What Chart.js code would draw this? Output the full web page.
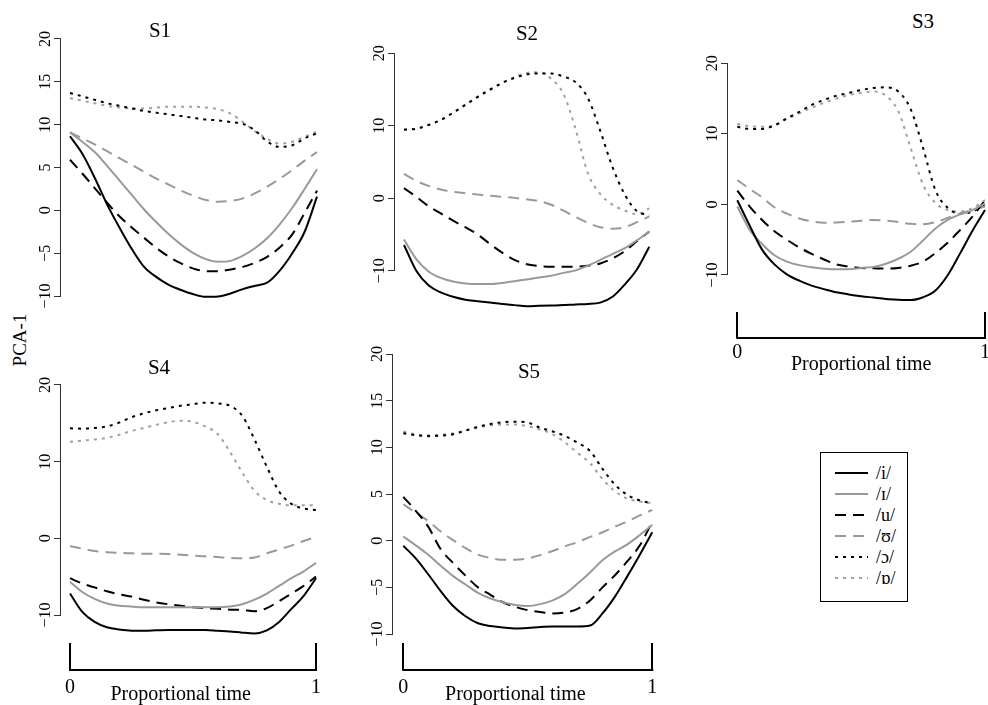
<!DOCTYPE html>
<html>
<head>
<meta charset="utf-8">
<title>PCA-1 trajectories by speaker</title>
<script src="https://cdn.jsdelivr.net/npm/chart.js@4.4.1/dist/chart.umd.min.js"></script>
<style>
    html, body { margin: 0; padding: 0; background: #fff; }
    body { position: relative; width: 988px; height: 705px; overflow: hidden; font-family: 'Liberation Serif', 'Times New Roman', serif; color: #000; }
    canvas { position: absolute; }
    .panel-title { position: absolute; font-size: 21px; line-height: 1; transform: translate(-50%, -50%); white-space: nowrap; }
    .y-label { position: absolute; font-size: 19px; line-height: 1; transform: translate(-50%, -50%) rotate(-90deg); white-space: nowrap; }
    #legend { position: absolute; left: 820px; top: 452px; width: 86px; height: 148px; border: 1px solid #000; }
    .legend-row { position: absolute; left: 0; height: 20px; display: flex; align-items: center; }
    .legend-row svg { margin-left: 14px; display: block; }
    .legend-row span { margin-left: 8px; font-size: 18px; line-height: 1; }
</style>
</head>
<body>
<div class="y-label" style="left: 19px; top: 340px;">PCA-1</div>
<div id="legend"></div>

<script>
// Proportional time (shared x values)
const time = [0, 0.05, 0.1, 0.15, 0.2, 0.25, 0.3, 0.35, 0.4, 0.45, 0.5,
              0.55, 0.6, 0.65, 0.7, 0.75, 0.8, 0.85, 0.9, 0.95, 1];
const vowels = ['/i/', '/ɪ/', '/u/', '/ʊ/', '/ɔ/', '/ɒ/'];
const yTicksFine = [-10, -5, 0, 5, 10, 15, 20];
const yTicksCoarse = [-10, 0, 10, 20];
const xTicks = [0, 1];

// S1
const s1_i  = [8.65, 6.6, 3.8, 0.7, -2.0, -4.5, -6.6, -7.8, -8.7, -9.3, -9.8, -10.1, -10.05, -9.7, -9.2, -8.8, -8.4, -7.0, -5.0, -2.5, 1.6];
const s1_ih = [9.1, 8.0, 6.8, 5.2, 3.5, 1.8, 0.1, -1.4, -2.8, -4.0, -5.0, -5.7, -6.0, -5.9, -5.3, -4.4, -3.2, -1.6, 0.3, 2.5, 4.8];
const s1_u  = [5.9, 4.3, 2.6, 0.9, -0.7, -2.0, -3.2, -4.4, -5.4, -6.2, -6.8, -7.1, -7.1, -6.9, -6.6, -6.1, -5.4, -4.3, -2.8, -0.3, 2.3];
const s1_uh = [9.1, 8.4, 7.7, 6.9, 6.1, 5.3, 4.5, 3.7, 3.0, 2.3, 1.7, 1.2, 1.0, 1.1, 1.4, 2.0, 2.8, 3.7, 4.7, 5.8, 6.8];
const s1_oh = [13.7, 13.3, 12.9, 12.5, 12.2, 11.9, 11.6, 11.4, 11.2, 11.0, 10.8, 10.6, 10.5, 10.3, 10.1, 9.3, 8.0, 7.4, 7.6, 8.4, 9.0];
const s1_aw = [13.1, 12.8, 12.5, 12.2, 12.0, 11.9, 11.9, 12.0, 12.1, 12.1, 12.1, 12.0, 11.8, 11.3, 10.3, 9.2, 8.3, 7.8, 8.0, 8.6, 9.2];

// S2
const s2_i  = [-6.45, -10.0, -12.0, -13.0, -13.6, -14.0, -14.2, -14.4, -14.6, -14.75, -14.9, -14.85, -14.8, -14.75, -14.65, -14.6, -14.4, -13.6, -11.9, -9.8, -6.7];
const s2_ih = [-5.7, -8.4, -10.1, -11.0, -11.5, -11.75, -11.85, -11.85, -11.7, -11.45, -11.2, -10.95, -10.7, -10.3, -9.95, -9.3, -8.5, -7.7, -6.9, -5.8, -4.6];
const s2_u  = [1.4, 0.2, -1.1, -2.1, -3.1, -4.0, -5.0, -6.3, -7.5, -8.5, -9.1, -9.35, -9.45, -9.45, -9.45, -9.3, -9.0, -8.3, -7.3, -5.9, -4.6];
const s2_uh = [3.35, 2.4, 1.7, 1.2, 0.9, 0.7, 0.5, 0.35, 0.2, 0.05, -0.15, -0.4, -0.9, -1.7, -2.6, -3.4, -4.0, -4.2, -4.0, -3.3, -2.5];
const s2_oh = [9.45, 9.6, 10.1, 10.8, 11.8, 12.9, 14.0, 15.0, 15.9, 16.6, 17.1, 17.2, 17.2, 16.8, 16.0, 13.8, 9.3, 4.3, 0.5, -1.8, -2.3];
const s2_aw = [9.5, 9.6, 10.1, 10.8, 11.8, 12.8, 13.9, 14.9, 15.9, 16.7, 17.3, 17.4, 16.5, 14.4, 9.5, 3.4, 0.6, -0.9, -1.7, -2.2, -1.4];

// S3
const s3_i  = [0.6, -3.0, -6.4, -8.5, -9.9, -10.8, -11.5, -12.0, -12.45, -12.75, -13.0, -13.2, -13.4, -13.5, -13.55, -13.15, -12.2, -10.0, -6.9, -3.7, -0.8];
const s3_ih = [-0.3, -3.6, -5.6, -7.2, -8.1, -8.6, -8.9, -9.1, -9.2, -9.2, -9.0, -8.85, -8.4, -7.7, -6.7, -5.1, -3.4, -2.2, -1.4, -0.8, 0.15];
const s3_u  = [1.95, -0.3, -2.2, -3.8, -5.0, -6.1, -7.0, -7.8, -8.5, -8.8, -9.0, -9.05, -9.1, -9.0, -8.7, -8.1, -6.9, -5.4, -3.6, -1.7, 0.6];
const s3_uh = [3.45, 2.2, 1.0, -0.4, -1.3, -2.0, -2.4, -2.6, -2.55, -2.45, -2.3, -2.2, -2.3, -2.5, -2.75, -2.8, -2.5, -1.9, -1.3, -0.8, -0.3];
const s3_oh = [11.0, 10.7, 10.7, 11.2, 12.2, 13.1, 14.1, 14.8, 15.4, 15.8, 16.2, 16.5, 16.6, 16.0, 13.5, 8.0, 2.0, -0.5, -1.3, -1.0, -0.1];
const s3_aw = [11.4, 11.1, 11.0, 11.2, 12.1, 12.9, 13.7, 14.4, 15.0, 15.5, 15.8, 16.0, 15.4, 13.2, 8.0, 2.8, 0.2, -0.8, -1.0, -0.5, 0.6];

// S4
const s4_i  = [-7.2, -9.6, -10.9, -11.6, -11.9, -12.05, -12.05, -12.0, -11.95, -11.95, -11.95, -11.95, -12.05, -12.15, -12.3, -12.4, -12.0, -10.9, -9.2, -7.5, -5.2];
const s4_ih = [-5.65, -7.0, -7.9, -8.5, -8.8, -8.9, -9.0, -9.0, -9.0, -9.0, -9.0, -9.0, -9.0, -8.9, -8.6, -8.0, -7.2, -6.2, -5.2, -4.3, -3.2];
const s4_u  = [-5.2, -5.9, -6.4, -6.9, -7.3, -7.6, -8.0, -8.35, -8.6, -8.8, -9.0, -9.1, -9.2, -9.3, -9.35, -9.5, -9.1, -8.2, -7.2, -6.2, -5.0];
const s4_uh = [-1.0, -1.35, -1.65, -1.8, -1.9, -1.95, -2.0, -2.0, -2.05, -2.15, -2.25, -2.35, -2.45, -2.55, -2.6, -2.5, -1.95, -1.45, -0.95, -0.35, 0.2];
const s4_oh = [14.35, 14.3, 14.4, 14.6, 15.1, 15.8, 16.3, 16.7, 17.0, 17.3, 17.5, 17.7, 17.6, 17.3, 16.0, 12.9, 9.35, 6.1, 4.5, 3.9, 3.7];
const s4_aw = [12.6, 12.75, 12.9, 13.1, 13.5, 14.0, 14.4, 14.8, 15.15, 15.35, 15.2, 14.6, 13.6, 11.3, 8.6, 6.2, 5.0, 4.5, 4.3, 4.3, 4.35];

// S5
const s5_i  = [-0.55, -1.9, -3.6, -5.4, -7.0, -8.1, -8.85, -9.15, -9.3, -9.4, -9.35, -9.25, -9.2, -9.2, -9.2, -9.1, -7.8, -6.0, -3.8, -1.5, 0.9];
const s5_ih = [0.45, -0.5, -1.5, -2.7, -3.8, -4.7, -5.6, -6.2, -6.6, -6.9, -7.0, -6.8, -6.4, -5.7, -4.6, -3.4, -2.1, -1.15, -0.4, 0.6, 1.7];
const s5_u  = [4.7, 3.2, 1.5, -0.9, -2.4, -3.75, -5.0, -5.8, -6.6, -7.1, -7.45, -7.65, -7.8, -7.7, -7.3, -6.4, -5.0, -3.7, -2.2, -0.5, 2.05];
const s5_uh = [3.9, 3.0, 2.1, 1.0, 0.05, -0.8, -1.5, -1.85, -2.05, -2.05, -1.9, -1.55, -1.1, -0.6, -0.15, 0.4, 0.9, 1.5, 2.05, 2.7, 3.3];
const s5_oh = [11.5, 11.3, 11.2, 11.25, 11.4, 11.8, 12.2, 12.5, 12.7, 12.75, 12.65, 12.1, 11.7, 11.2, 10.5, 9.6, 7.7, 6.0, 4.9, 4.3, 4.0];
const s5_aw = [11.7, 11.4, 11.3, 11.35, 11.5, 11.8, 12.1, 12.35, 12.45, 12.45, 12.25, 11.9, 11.4, 10.5, 9.4, 8.3, 6.6, 5.3, 4.5, 4.2, 4.0];

// Line styles, one per vowel
const seriesStyle = [
    { color: '#000000', dash: [] },
    { color: '#999999', dash: [] },
    { color: '#000000', dash: [11, 7] },
    { color: '#999999', dash: [11, 7] },
    { color: '#000000', dash: [3, 5] },
    { color: '#a0a0a0', dash: [3, 5] }
];

const FONT = 'Liberation Serif';
const AXIS_W = 45;
const PAD_TOP = 14, PAD_RIGHT = 8, PAD_BOTTOM = 14;

// Panel layout: canvas box, pixel calibration of the time axis and of two y values
const panels = [
    { name: 'S1', series: [s1_i, s1_ih, s1_u, s1_uh, s1_oh, s1_aw], yTicks: yTicksFine,
      box: { left: 16, top: 16, width: 319, height: 308 }, xPx: [70, 317], yCal: [20, 39, -10, 296],
      titlePos: [160, 30], xAxis: null },
    { name: 'S2', series: [s2_i, s2_ih, s2_u, s2_uh, s2_oh, s2_aw], yTicks: yTicksCoarse,
      box: { left: 350, top: 26, width: 317, height: 303 }, xPx: [404, 649.3], yCal: [20, 53.3, -10, 270.7],
      titlePos: [527, 33], xAxis: null },
    { name: 'S3', series: [s3_i, s3_ih, s3_u, s3_uh, s3_oh, s3_aw], yTicks: yTicksCoarse,
      box: { left: 683, top: 36, width: 320, height: 339 }, xPx: [737.3, 985], yCal: [20, 63.3, -10, 275],
      titlePos: [923, 21], xAxis: { height: 63, tickLen: 26, pad: 3, titleAt: 0.5, titleDrop: 32 } },
    { name: 'S4', series: [s4_i, s4_ih, s4_u, s4_uh, s4_oh, s4_aw], yTicks: yTicksCoarse,
      box: { left: 16, top: 358, width: 318, height: 347 }, xPx: [70, 316], yCal: [20, 385, -10, 615],
      titlePos: [159, 367], xAxis: { height: 62, tickLen: 27, pad: 6, titleAt: 0.45, titleDrop: 30 } },
    { name: 'S5', series: [s5_i, s5_ih, s5_u, s5_uh, s5_oh, s5_aw], yTicks: yTicksFine,
      box: { left: 348, top: 331, width: 322, height: 374 }, xPx: [403.3, 652.3], yCal: [20, 354, -10, 634],
      titlePos: [529, 371], xAxis: { height: 62, tickLen: 27, pad: 6, titleAt: 0.45, titleDrop: 30 } }
];

// R-style axes: y axis line only between the outer ticks, bracket-shaped time axis
const rAxisPlugin = {
    id: 'rAxis',
    afterDraw(chart, args, opts) {
        const ctx = chart.ctx;
        const ys = chart.scales.y;
        const xs = chart.scales.x;
        const vals = ys.ticks.map(t => t.value);
        ctx.save();
        ctx.strokeStyle = '#333';
        ctx.lineWidth = 1;
        const ax = Math.round(ys.right) - 0.5;
        ctx.beginPath();
        ctx.moveTo(ax, ys.getPixelForValue(Math.max(...vals)));
        ctx.lineTo(ax, ys.getPixelForValue(Math.min(...vals)));
        ctx.stroke();

        if (opts.bracket) {
            const yb = xs.top + opts.tickLen;
            ctx.strokeStyle = '#000';
            ctx.lineWidth = 2;
            ctx.lineCap = 'square';
            ctx.beginPath();
            ctx.moveTo(xs.getPixelForValue(xTicks[0]), yb);
            ctx.lineTo(xs.getPixelForValue(xTicks[xTicks.length - 1]), yb);
            ctx.stroke();

            ctx.fillStyle = '#000';
            ctx.font = '20px "' + FONT + '"';
            ctx.textAlign = 'center';
            ctx.textBaseline = 'alphabetic';
            ctx.fillText('Proportional time', xs.getPixelForValue(opts.titleAt), yb + opts.titleDrop);
        }
        ctx.restore();
    }
};

function formatTick(v) {
    return v < 0 ? '\u2212' + Math.abs(v) : String(v);
}

function makePanel(p) {
    const canvas = document.createElement('canvas');
    canvas.width = p.box.width;
    canvas.height = p.box.height;
    canvas.style.left = p.box.left + 'px';
    canvas.style.top = p.box.top + 'px';
    document.body.appendChild(canvas);

    const xh = p.xAxis ? p.xAxis.height : 0;
    const padBottom = p.xAxis ? 0 : PAD_BOTTOM;
    const area = {
        left: p.box.left + AXIS_W,
        right: p.box.left + p.box.width - PAD_RIGHT,
        top: p.box.top + PAD_TOP,
        bottom: p.box.top + p.box.height - padBottom - xh
    };

    // scale ranges that reproduce the reference's pixel mapping
    const xSpan = p.xPx[1] - p.xPx[0];
    const xMin = (area.left - p.xPx[0]) / xSpan;
    const xMax = (area.right - p.xPx[0]) / xSpan;
    const [v1, p1, v2, p2] = p.yCal;
    const unitsPerPx = (v1 - v2) / (p2 - p1);
    const yMax = v1 + (p1 - area.top) * unitsPerPx;
    const yMin = v1 - (area.bottom - p1) * unitsPerPx;

    new Chart(canvas, {
        type: 'line',
        data: {
            datasets: p.series.map((vals, i) => ({
                label: vowels[i],
                data: time.map((t, k) => ({ x: t, y: vals[k] })),
                borderColor: seriesStyle[i].color,
                borderDash: seriesStyle[i].dash,
                borderWidth: 2,
                pointRadius: 0,
                fill: false,
                cubicInterpolationMode: 'monotone'
            }))
        },
        options: {
            responsive: false,
            animation: false,
            devicePixelRatio: 1,
            layout: { padding: { top: PAD_TOP, right: PAD_RIGHT, bottom: padBottom, left: 0 } },
            plugins: {
                legend: { display: false },
                tooltip: { enabled: false },
                rAxis: p.xAxis ? { bracket: true, tickLen: p.xAxis.tickLen, titleAt: p.xAxis.titleAt, titleDrop: p.xAxis.titleDrop } : { bracket: false }
            },
            scales: {
                x: {
                    type: 'linear',
                    min: xMin,
                    max: xMax,
                    display: !!p.xAxis,
                    afterBuildTicks: s => { s.ticks = xTicks.map(v => ({ value: v })); },
                    afterFit: s => { s.height = xh; s.paddingLeft = 0; s.paddingRight = 0; },
                    grid: { drawOnChartArea: false, drawTicks: true, tickLength: p.xAxis ? p.xAxis.tickLen : 0, color: '#000', lineWidth: 2 },
                    border: { display: false },
                    ticks: {
                        padding: p.xAxis ? p.xAxis.pad : 0,
                        autoSkip: false,
                        maxRotation: 0,
                        color: '#000',
                        font: { family: FONT, size: 20 },
                        callback: v => String(v)
                    }
                },
                y: {
                    type: 'linear',
                    min: yMin,
                    max: yMax,
                    afterBuildTicks: s => { s.ticks = p.yTicks.map(v => ({ value: v })); },
                    afterFit: s => { s.width = AXIS_W; s.paddingTop = 0; s.paddingBottom = 0; },
                    grid: { drawOnChartArea: false, drawTicks: true, tickLength: 7, color: '#333', lineWidth: 1 },
                    border: { display: false },
                    ticks: {
                        minRotation: 90,
                        maxRotation: 90,
                        crossAlign: 'center',
                        padding: -4,
                        color: '#000',
                        font: { family: FONT, size: 16 },
                        callback: v => formatTick(v)
                    }
                }
            }
        },
        plugins: [rAxisPlugin]
    });

    const title = document.createElement('div');
    title.className = 'panel-title';
    title.textContent = p.name;
    title.style.left = p.titlePos[0] + 'px';
    title.style.top = p.titlePos[1] + 'px';
    document.body.appendChild(title);
}

panels.forEach(makePanel);

// Legend
const legend = document.getElementById('legend');
vowels.forEach((v, i) => {
    const row = document.createElement('div');
    row.className = 'legend-row';
    row.style.top = (10 + 21 * i) + 'px';
    const st = seriesStyle[i];
    row.innerHTML =
        '<svg width="33" height="20"><line x1="0" y1="10" x2="33" y2="10" stroke="' + st.color +
        '" stroke-width="2" stroke-dasharray="' + (st.dash.length ? st.dash.join(' ') : 'none') + '"/></svg>' +
        '<span>' + v + '</span>';
    legend.appendChild(row);
});
</script>
</body>
</html>
